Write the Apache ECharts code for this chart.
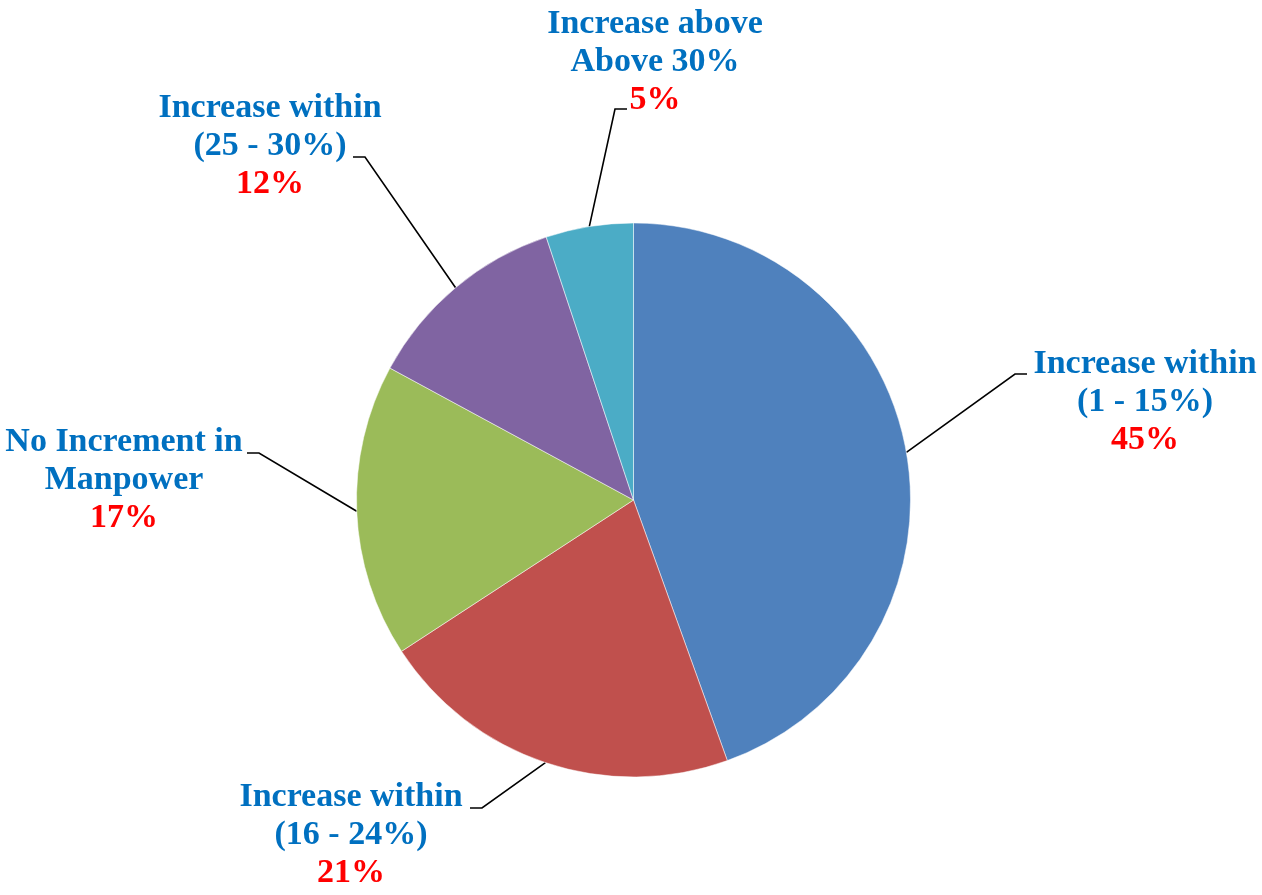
<!DOCTYPE html>
<html>
<head>
<meta charset="utf-8">
<script src="https://cdn.jsdelivr.net/npm/echarts@6/dist/echarts.min.js"></script>
<style>
  html, body { margin: 0; padding: 0; background: #ffffff; }
  #chart { width: 1262px; height: 895px; }
</style>
</head>
<body>
<div id="chart"></div>
<script>
// ---- data ----
var categories = [
  'Increase within\n(1 - 15%)',
  'Increase within\n(16 - 24%)',
  'No Increment in\nManpower',
  'Increase within\n(25 - 30%)',
  'Increase above\nAbove 30%'
];
var values = [44.5, 21.3, 17.1, 12.0, 5.1];
var percentLabels = ['45%', '21%', '17%', '12%', '5%'];
var colors = ['#4F81BD', '#C0504D', '#9BBB59', '#8064A2', '#4BACC6'];

// ---- label placement (layout only) ----
var labelPlace = [
  { cx: 1145, top: 345, ex: 1027, ey: 374, dir: -1 },
  { cx: 351,  top: 778, ex: 470,  ey: 808, dir: 1 },
  { cx: 124,  top: 423, ex: 247,  ey: 453, dir: 1 },
  { cx: 270,  top: 89,  ex: 353,  ey: 157, dir: 1 },
  { cx: 655,  top: 5,   ex: 627,  ey: 109, dir: -1 }
];
var pieCenter = [633.5, 500];
var pieRadius = 277;

var total = values.reduce(function (a, b) { return a + b; }, 0);
function anchorFor(i) {
  var before = 0;
  for (var k = 0; k < i; k++) before += values[k];
  var mid = (before + values[i] / 2) / total * Math.PI * 2;
  return [pieCenter[0] + pieRadius * Math.sin(mid), pieCenter[1] - pieRadius * Math.cos(mid)];
}

var FONT = '"Liberation Serif", "DejaVu Serif", serif';
var chart = echarts.init(document.getElementById('chart'), null, { renderer: 'canvas' });
var option = {
  backgroundColor: '#ffffff',
  animation: false,
  series: [{
    type: 'pie',
    center: pieCenter,
    radius: pieRadius,
    startAngle: 90,
    clockwise: true,
    avoidLabelOverlap: false,
    color: colors,
    itemStyle: { borderColor: '#ffffff', borderWidth: 0.5 },
    emphasis: { disabled: true },
    data: categories.map(function (c, i) { return { name: c, value: values[i] }; }),
    label: {
      show: true,
      position: 'outside',
      fontFamily: FONT,
      fontWeight: 'bold',
      fontSize: 34,
      lineHeight: 38,
      formatter: function (p) {
        var parts = p.name.split('\n').map(function (s) { return '{n|' + s + '}'; });
        parts.push('{p|' + percentLabels[p.dataIndex] + '}');
        return parts.join('\n');
      },
      rich: {
        n: { color: '#0070C0', fontFamily: FONT, fontWeight: 'bold', fontSize: 34, lineHeight: 38, align: 'center' },
        p: { color: '#FF0000', fontFamily: FONT, fontWeight: 'bold', fontSize: 34, lineHeight: 38, align: 'center' }
      }
    },
    labelLine: {
      show: true,
      length: 20,
      length2: 10,
      lineStyle: { color: '#000000', width: 1.6 }
    },
    labelLayout: function (params) {
      var i = params.dataIndex;
      var pl = labelPlace[i];
      var a = (params.labelLinePoints && params.labelLinePoints[0]) ? params.labelLinePoints[0] : anchorFor(i);
      return {
        x: pl.cx,
        y: pl.top,
        align: 'center',
        verticalAlign: 'top',
        labelLinePoints: [
          [a[0], a[1]],
          [pl.ex + pl.dir * 12, pl.ey],
          [pl.ex, pl.ey]
        ]
      };
    }
  }]
};
chart.setOption(option);
</script>
</body>
</html>
